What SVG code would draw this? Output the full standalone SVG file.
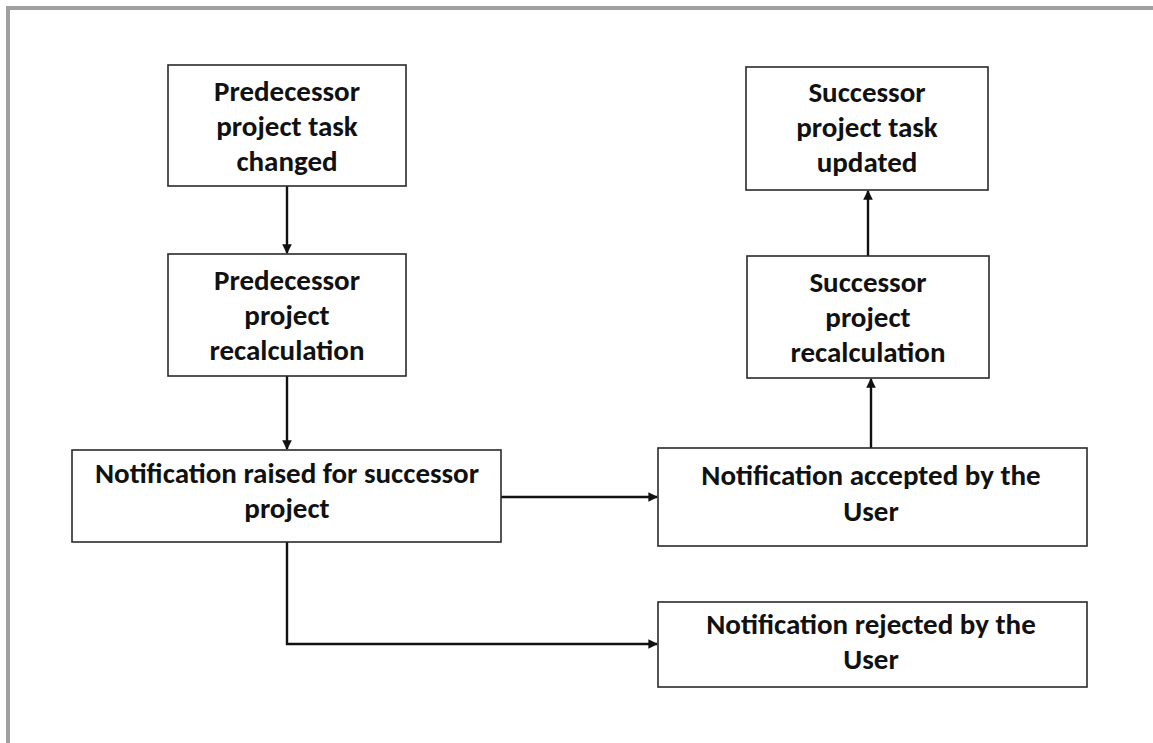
<svg xmlns="http://www.w3.org/2000/svg" width="1153" height="743" viewBox="0 0 1153 743">
<style>
.box{fill:#fff;stroke:#2a2a2a;stroke-width:1.6}
.t{font-family:Carlito,"Liberation Sans",Arial,sans-serif;font-weight:bold;font-size:29px;fill:#111;text-anchor:middle}
.c{fill:none;stroke:#111;stroke-width:2.4}
</style>
<defs>
<marker id="ah" viewBox="0 0 10 10" refX="9" refY="5" markerWidth="4" markerHeight="4" orient="auto" markerUnits="strokeWidth">
<path d="M0,0 L10,5 L0,10 z" fill="#111"/>
</marker>
</defs>
<rect width="1153" height="743" fill="#fff"/>
<g id="frame">
<line x1="6" y1="8" x2="1153" y2="8" stroke="#a0a0a0" stroke-width="4"/>
<line x1="8" y1="6" x2="8" y2="743" stroke="#a0a0a0" stroke-width="4"/>
</g>
<g id="connectors">
<line class="c" x1="287" y1="186" x2="287" y2="253" marker-end="url(#ah)"/>
<line class="c" x1="287" y1="376" x2="287" y2="449" marker-end="url(#ah)"/>
<line class="c" x1="501" y1="497" x2="657" y2="497" marker-end="url(#ah)"/>
<polyline class="c" points="287,542 287,644 657,644" marker-end="url(#ah)"/>
<line class="c" x1="871" y1="448" x2="871" y2="379" marker-end="url(#ah)"/>
<line class="c" x1="868" y1="256" x2="868" y2="191" marker-end="url(#ah)"/>
</g>
<g id="n1">
<rect class="box" x="168" y="65" width="238" height="121"/>
<text class="t" x="287" y="101">Predecessor</text>
<text class="t" x="287" y="136">project task</text>
<text class="t" x="287" y="171">changed</text>
</g>
<g id="n2">
<rect class="box" x="168" y="254" width="238" height="122"/>
<text class="t" x="287" y="290">Predecessor</text>
<text class="t" x="287" y="325">project</text>
<text class="t" x="287" y="360">recalculation</text>
</g>
<g id="n3">
<rect class="box" x="72" y="450" width="429" height="92"/>
<text class="t" x="287" y="483">Notification raised for successor</text>
<text class="t" x="287" y="518">project</text>
</g>
<g id="n4">
<rect class="box" x="658" y="448" width="429" height="98"/>
<text class="t" x="871" y="485">Notification accepted by the</text>
<text class="t" x="871" y="521">User</text>
</g>
<g id="n5">
<rect class="box" x="658" y="602" width="429" height="85"/>
<text class="t" x="871" y="634">Notification rejected by the</text>
<text class="t" x="871" y="669">User</text>
</g>
<g id="n6">
<rect class="box" x="746" y="67" width="242" height="123"/>
<text class="t" x="867" y="102">Successor</text>
<text class="t" x="867" y="137">project task</text>
<text class="t" x="867" y="172">updated</text>
</g>
<g id="n7">
<rect class="box" x="747" y="256" width="242" height="122"/>
<text class="t" x="868" y="292">Successor</text>
<text class="t" x="868" y="327">project</text>
<text class="t" x="868" y="362">recalculation</text>
</g>
</svg>
